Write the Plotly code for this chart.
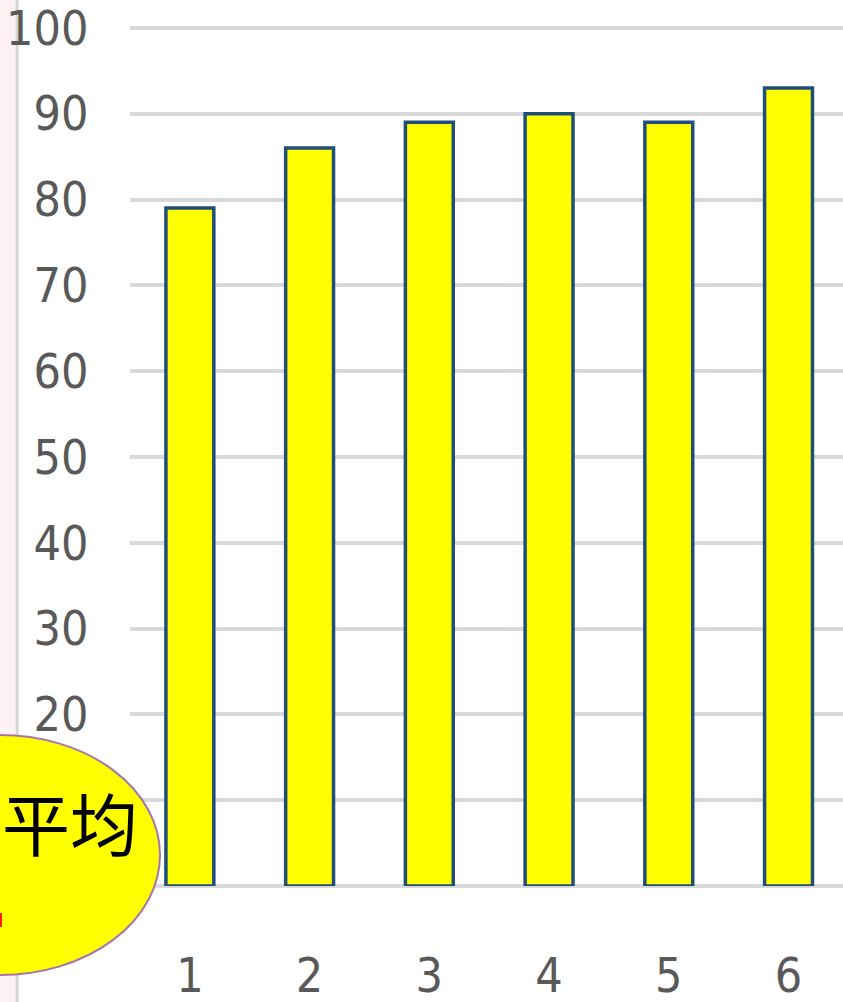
import plotly.graph_objects as go

# ---- data ----
categories = [1, 2, 3, 4, 5, 6]
scores = [79, 86, 89, 90, 89, 93]
y_ticks = [0, 10, 20, 30, 40, 50, 60, 70, 80, 90, 100]
# labels 0 and 10 are hidden behind the callout ellipse in the reference
y_tick_labels = ["", "", "20", "30", "40", "50", "60", "70", "80", "90", "100"]
note_text = "平均"

# ---- layout geometry (pixels) ----
W, H = 843, 1002
Y_MAX = 101.5
PL, PR, PB = 130, 843, 886
PT = PB - (PB - 28) * Y_MAX / 100.0   # so that 100 sits at y=28


def px_x(p):
    return (p - PL) / (PR - PL)


def px_y(p):
    return (PB - p) / (PB - PT)


fig = go.Figure()
fig.add_trace(go.Bar(
    x=categories, y=scores, width=[0.4] * len(categories),
    marker=dict(color="#FFFF00", line=dict(color="#1F4E79", width=3.5)),
    hoverinfo="skip",
))

tick_font = dict(family="DejaVu Sans Condensed, Liberation Sans Narrow, sans-serif",
                 size=48, color="#595959")

fig.update_layout(
    width=W, height=H,
    margin=dict(l=PL, r=W - PR, t=PT, b=H - PB, pad=0, autoexpand=False),
    paper_bgcolor="white", plot_bgcolor="white",
    showlegend=False,
    xaxis=dict(range=[0.5, 6.455], tickvals=categories, ticktext=[str(c) for c in categories],
               showgrid=False, zeroline=False, showline=False, automargin=False,
               ticks="outside", ticklen=47, tickcolor="rgba(0,0,0,0)",
               tickfont=tick_font, ticklabeloverflow="allow"),
    yaxis=dict(range=[0, Y_MAX], tickvals=y_ticks, ticktext=y_tick_labels,
               showgrid=True, gridcolor="#D9D9D9", gridwidth=3.5,
               zeroline=True, zerolinecolor="#D9D9D9", zerolinewidth=3.5, showline=False,
               automargin=False,
               ticks="outside", ticklen=31, tickcolor="rgba(0,0,0,0)",
               tickfont=tick_font, ticklabeloverflow="allow"),
)

# left pink strip and gray divider
fig.add_shape(type="rect", xref="paper", yref="paper",
              x0=px_x(0), x1=px_x(15), y0=px_y(H), y1=px_y(0),
              fillcolor="#FDF1F6", line=dict(width=0), layer="below")
fig.add_shape(type="line", xref="paper", yref="paper",
              x0=px_x(17), x1=px_x(17), y0=px_y(H), y1=px_y(0),
              line=dict(color="#D4D4D4", width=3), layer="below")

# yellow ellipse callout
fig.add_shape(type="circle", xref="paper", yref="paper",
              x0=px_x(-160), x1=px_x(160), y0=px_y(975), y1=px_y(735),
              fillcolor="#FFFF00", line=dict(color="#A875A8", width=2), layer="above")
# red fragment at left edge
fig.add_shape(type="rect", xref="paper", yref="paper",
              x0=px_x(-6), x1=px_x(2), y0=px_y(927), y1=px_y(913),
              fillcolor="#FF2000", line=dict(width=0), layer="above")

fig.add_annotation(xref="paper", yref="paper", x=px_x(70), y=px_y(822),
                   text=note_text, showarrow=False, xanchor="center", yanchor="middle",
                   font=dict(family="Noto Sans CJK SC", size=68, color="black"))

fig.write_html("out.html")
